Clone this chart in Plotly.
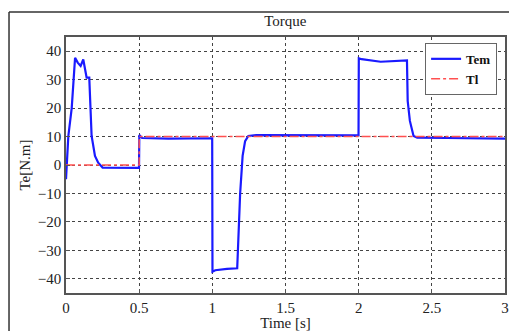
import plotly.graph_objects as go

# Electromagnetic torque Tem (key points)
tem_t = [0.0, 0.004, 0.016, 0.039, 0.062, 0.08, 0.10, 0.118, 0.141, 0.159, 0.175, 0.198, 0.22, 0.25,
         0.35, 0.45, 0.499, 0.501, 0.52, 0.7, 0.9, 0.999, 1.001, 1.02, 1.1, 1.17, 1.19, 1.207, 1.224,
         1.246, 1.3, 1.5, 1.75, 1.999, 2.001, 2.02, 2.15, 2.3, 2.33, 2.335, 2.35, 2.375, 2.4, 2.6, 2.8, 3.0]
tem_v = [-5.0, 0.0, 10.2, 20.0, 37.7, 36.0, 34.8, 37.1, 30.7, 30.7, 10.2, 3.2, 0.8, -0.9,
         -1.0, -1.0, -1.0, 10.5, 9.5, 9.3, 9.4, 9.4, -37.5, -37.0, -36.5, -36.3, -10.0, 3.2, 8.4,
         10.2, 10.5, 10.4, 10.5, 10.4, 37.5, 37.2, 36.3, 36.8, 36.8, 22.5, 15.5, 10.2, 9.6, 9.5, 9.4, 9.3]

# Load torque Tl
tl_t = [0.0, 0.5, 0.5, 3.0]
tl_v = [0.0, 0.0, 10.0, 10.0]

x_ticks = [0, 0.5, 1, 1.5, 2, 2.5, 3]
x_tick_labels = ["0", "0.5", "1", "1.5", "2", "2.5", "3"]
y_ticks = [-40, -30, -20, -10, 0, 10, 20, 30, 40]

serif = "Liberation Serif, Times New Roman, serif"

fig = go.Figure()
fig.add_trace(go.Scatter(x=tem_t, y=tem_v, mode="lines", name="<b>Tem</b>",
                         line=dict(color="#1a1aff", width=2.2)))
fig.add_trace(go.Scatter(x=tl_t, y=tl_v, mode="lines", name="<b>Tl</b>",
                         line=dict(color="#ff5050", width=1.5, dash="dashdot")))

axis_common = dict(showline=True, mirror=True, linecolor="#555555", linewidth=1.5,
                   showgrid=True, gridcolor="#444444", griddash="dot", gridwidth=1,
                   ticks="inside", ticklen=4, tickcolor="#555555", zeroline=False,
                   automargin=False,
                   tickfont=dict(family=serif, size=15, color="#222222"))

fig.update_xaxes(range=[0, 3], tickvals=x_ticks, ticktext=x_tick_labels,
                 title=dict(text="Time [s]", font=dict(family=serif, size=15, color="#222222"), standoff=4),
                 **axis_common)
fig.update_yaxes(range=[-45, 45], tickvals=y_ticks,
                 title=dict(text="Te[N.m]", font=dict(family=serif, size=15, color="#222222"), standoff=4),
                 **axis_common)

fig.update_layout(
    width=509, height=323,
    margin=dict(l=58, r=12, t=29, b=38, autoexpand=False),
    paper_bgcolor="white", plot_bgcolor="white",
    title=dict(text="Torque", x=0.545, xanchor="center", y=1 - 13 / 323, yanchor="middle",
               yref="container", font=dict(family=serif, size=15, color="#222222"),
               automargin=False),
    legend=dict(x=0.982, y=0.977, xanchor="right", yanchor="top",
                bgcolor="white", bordercolor="#666666", borderwidth=1,
                font=dict(family=serif, size=13, color="#111111"),
                tracegroupgap=0, itemwidth=30),
    showlegend=True,
)

# outer frame (left and top edges)
fig.add_shape(type="line", xref="paper", yref="paper", x0=-0.1298, x1=-0.1298, y0=1.0977, y1=-0.2,
              line=dict(color="#333333", width=1.5))
fig.add_shape(type="line", xref="paper", yref="paper", x0=-0.1298, x1=1.1, y0=1.0977, y1=1.0977,
              line=dict(color="#333333", width=1.5))

fig.write_html("out.html")
